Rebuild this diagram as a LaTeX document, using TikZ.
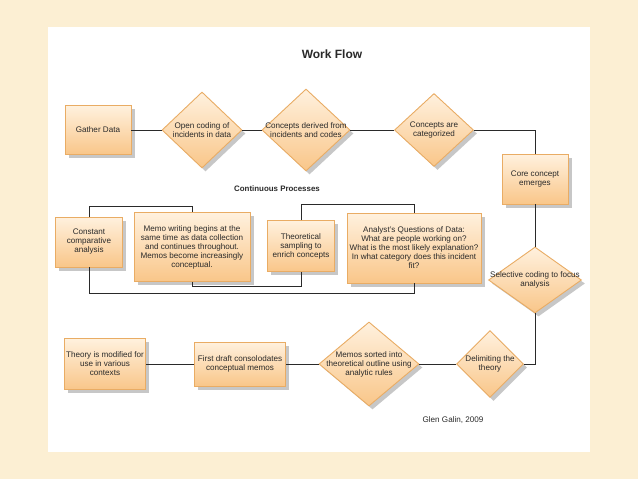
\documentclass[tikz,border=0pt]{standalone}
\usepackage{fontspec}
\setmainfont{Liberation Sans}
\usepackage{tikz}
\usetikzlibrary{shapes,positioning,shadows}

\definecolor{pagebg}{HTML}{FCEFD3}
\definecolor{boxtop}{HTML}{FFF1DE}
\definecolor{boxbot}{HTML}{F9C689}
\definecolor{boxline}{HTML}{E9AC64}
\definecolor{ink}{HTML}{2A2A2A}

\begin{document}
\begin{tikzpicture}[
    x=1pt, y=-1pt,
    font=\fontsize{8.1}{9}\selectfont,
    text=ink,
    shade/.style={top color=boxtop, bottom color=boxbot, draw=boxline, line width=0.9pt,
        drop shadow={shadow xshift=3.5pt, shadow yshift=-3.5pt, fill=black!22, opacity=1}},
    box/.style={shade, rectangle, inner sep=1pt, align=center},
    dia/.style={shade, diamond, inner sep=0pt},
    txt/.style={align=center, inner sep=0pt},
    flow/.style={draw=ink, line width=1pt}
]
\useasboundingbox (0,0) rectangle (638,479);
\fill[pagebg] (0,0) rectangle (638,479);
\fill[white] (48,27) rectangle (590,452);

\node[font=\bfseries\fontsize{12}{14}\selectfont] (title) at (332,54) {Work Flow};
\node[font=\bfseries\fontsize{7.9}{9}\selectfont] (cont) at (277,189) {Continuous Processes};

% top row
\node[box, minimum width=66, minimum height=49] (gather) at (98,130) {Gather Data};
\node[dia, minimum width=80, minimum height=76,
    label={[txt]center:Open coding of\\incidents in data}] (open) at (202,130) {};
\node[dia, minimum width=88, minimum height=82,
    label={[txt]center:Concepts derived from\\incidents and codes}] (derived) at (306,130) {};
\node[dia, minimum width=79, minimum height=73,
    label={[txt]center:Concepts are\\categorized}] (categ) at (434,130) {};
\node[box, minimum width=66, minimum height=50] (core) at (535,179) {Core concept\\emerges};
\node[dia, minimum width=93, minimum height=66,
    label={[txt]center:Selective coding to focus\\analysis}] (select) at (535,280) {};

% continuous processes
\node[box, minimum width=67, minimum height=50] (constant) at (89,242) {Constant\\comparative\\analysis};
\node[box, minimum width=116, minimum height=69] (memo) at (192,247)
    {Memo writing begins at the\\same time as data collection\\and continues throughout.\\Memos become increasingly\\conceptual.};
\node[box, minimum width=67, minimum height=51] (sampling) at (301,246) {Theoretical\\sampling to\\enrich concepts};
\node[box, minimum width=134, minimum height=70] (analyst) at (414,248)
    {Analyst's Questions of Data:\\What are people working on?\\What is the most likely explanation?\\In what category does this incident\\fit?};

% bottom row
\node[dia, minimum width=67, minimum height=67,
    label={[txt]center:Delimiting the\\theory}] (delim) at (490,364) {};
\node[dia, minimum width=100, minimum height=84,
    label={[txt]center:Memos sorted into\\theoretical outline using\\analytic rules}] (sorted) at (369,364) {};
\node[box, minimum width=91, minimum height=44] (draft) at (240,364) {First draft consolodates\\conceptual memos};
\node[box, minimum width=81, minimum height=51] (theory) at (105,364) {Theory is modified for\\use in various\\contexts};
\node (credit) at (453,420) {Glen Galin, 2009};

% connectors
\draw[flow] (gather) -- (open);
\draw[flow] (open) -- (derived);
\draw[flow] (derived) -- (categ);
\draw[flow] (categ.east) -| (core.north);
\draw[flow] (core) -- (select);
\draw[flow] (select.south) |- (delim.east);
\draw[flow] (delim) -- (sorted);
\draw[flow] (sorted) -- (draft);
\draw[flow] (draft) -- (theory);

\draw[flow] (constant.north) -- ++(0,-10) -| (memo.north);
\draw[flow] (constant.south) -- ++(0,26) -| (analyst.south);
\draw[flow] (memo.south) -- ++(0,5) -| (sampling.south);
\draw[flow] (sampling.north) -- ++(0,-16) -| (analyst.north);
\end{tikzpicture}
\end{document}
